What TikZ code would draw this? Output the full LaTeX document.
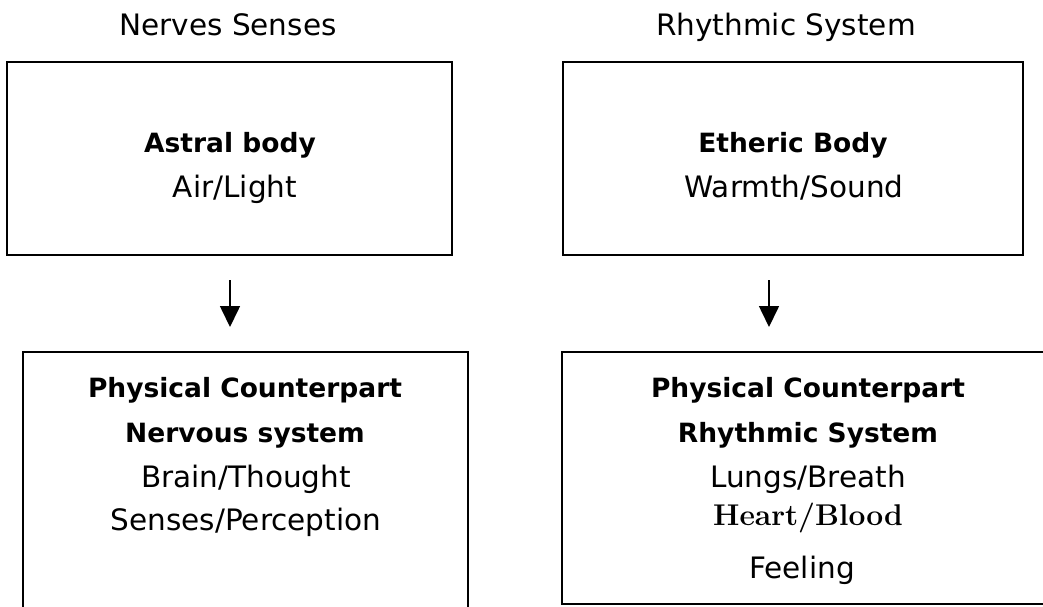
\documentclass[tikz,border=0pt]{standalone}
\usepackage{fontspec}
\newfontfamily\comic{DejaVu Sans}
\usetikzlibrary{arrows.meta}
\tikzset{
  boxtop/.style={draw, line width=2pt, inner sep=0pt, outer sep=0pt, minimum height=193pt},
  boxbot/.style={draw, line width=1.5pt, inner sep=0pt, outer sep=0pt},
  txt/.style={anchor=base, inner sep=0pt, font=\comic\fontsize{29.5}{34}\selectfont},
  btxt/.style={anchor=base, inner sep=0pt, font=\comic\bfseries\fontsize{26.5}{31}\selectfont},
  stxt/.style={anchor=base, inner sep=0pt, font=\rmfamily\bfseries\fontsize{30}{35}\selectfont},
  arr/.style={line width=1.6pt, -{Triangle[width=20pt,length=21pt]}}
}
\begin{document}
\begin{tikzpicture}[x=1pt,y=-1pt]
\useasboundingbox (0,0) rectangle (1043,606);
\clip (0,0) rectangle (1043,606);
% titles
\node[txt] (h1) at (228,35) {Nerves Senses};
\node[txt] (h2) at (786,35) {Rhythmic System};
% boxes
\node[boxtop, minimum width=445pt] (tl) at (229.5,158.5) {};
\node[boxtop, minimum width=460pt] (tr) at (793,158.5) {};
\node[boxbot, minimum width=445pt, minimum height=268pt] (bl) at (245.5,486) {};
\node[boxbot, minimum width=496pt, minimum height=252pt] (br) at (810,478) {};
% top texts
\node[btxt] (tl1) at (230,152) {Astral body};
\node[txt]  (tl2) at (235,197) {Air/Light};
\node[btxt] (tr1) at (793,152) {Etheric Body};
\node[txt]  (tr2) at (794,197) {Warmth/Sound};
% bottom left texts
\node[btxt] (bl1) at (245,397) {Physical Counterpart};
\node[btxt] (bl2) at (245,442) {Nervous system};
\node[txt]  (bl3) at (246,487) {Brain/Thought};
\node[txt]  (bl4) at (246,530) {Senses/Perception};
% bottom right texts
\node[btxt] (br1) at (808,397) {Physical Counterpart};
\node[btxt] (br2) at (808,442) {Rhythmic System};
\node[txt]  (br3) at (808,487) {Lungs/Breath};
\node[stxt] (br4) at (808,525) {Heart/Blood};
\node[txt]  (br5) at (802,578) {Feeling};
% arrows
\draw[arr] ([xshift=0.5pt,yshift=-25pt]tl.south) -- ([xshift=0.5pt,yshift=25pt]tl.south |- bl.north);
\draw[arr] ([xshift=-24pt,yshift=-25pt]tr.south) -- ([xshift=-24pt,yshift=25pt]tr.south |- br.north);
\end{tikzpicture}
\end{document}
